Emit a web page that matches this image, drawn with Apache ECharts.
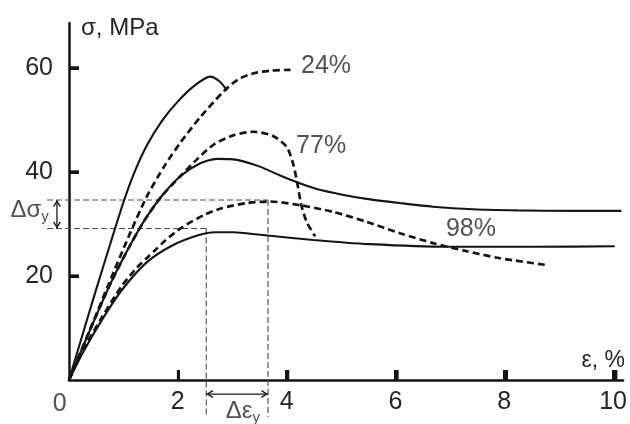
<!DOCTYPE html>
<html><head><meta charset="utf-8">
<script src="https://cdn.jsdelivr.net/npm/echarts@6/dist/echarts.min.js"></script>
<style>html,body{margin:0;padding:0;background:#fff}#c{width:630px;height:424px}</style>
</head><body><div id="c"></div>
<script>
// ---- data (x: strain ε, %; y: stress σ, MPa) ----
const xTicks = [0, 2, 4, 6, 8, 10];
const yTicks = [0, 20, 40, 60];

const solid24 = [[0,0],[0.25,8.8],[0.5,17.5],[0.75,26.0],[1.0,34.3],[1.2,40.0],[1.43,45.2],[1.7,49.8],[1.98,53.4],[2.3,56.6],[2.58,58.3],[2.76,57.3],[2.89,55.6]];
const dashed24 = [[0,0],[0.35,8.8],[0.72,18.3],[1.1,27.8],[1.42,35.2],[1.75,41.2],[2.05,45.8],[2.4,50.5],[2.85,55.7],[3.1,57.8],[3.4,59.0],[3.7,59.45],[4.05,59.6]];
const solid77 = [[0,0],[0.4,10.0],[0.78,19.0],[1.15,26.5],[1.4,31.0],[1.7,35.4],[2.03,39.1],[2.39,41.6],[2.7,42.5],[3.07,42.3],[3.49,41.0],[3.86,39.3],[4.22,37.8],[4.53,36.7],[5.0,35.6],[5.44,34.8],[6.05,34.0],[6.65,33.3],[7.39,32.8],[8.2,32.6],[9.2,32.5],[10.1,32.5]];
const dashed77 = [[0,0],[0.4,10.0],[0.78,19.0],[1.15,26.5],[1.4,31.0],[1.7,35.4],[2.03,39.1],[2.33,42.3],[2.64,45.2],[3.0,47.0],[3.37,47.7],[3.73,46.9],[3.98,44.8],[4.1,41.5],[4.18,37.5],[4.25,33.5],[4.35,30.3],[4.5,27.6]];
const solid98 = [[0,0],[0.25,5.2],[0.6,11.5],[0.96,17.2],[1.42,22.6],[1.88,25.8],[2.36,27.8],[2.67,28.4],[3.0,28.4],[3.5,27.9],[4.47,26.9],[5.5,26.1],[6.93,25.6],[8.5,25.6],[9.98,25.7]];
const dashed98 = [[0,0],[0.25,5.6],[0.6,12.0],[0.96,18.0],[1.25,21.7],[1.42,23.4],[1.57,24.9],[1.76,26.8],[2.06,29.3],[2.49,31.8],[2.79,33.0],[3.25,34.0],[3.67,34.3],[4.22,33.6],[4.83,32.3],[5.44,30.4],[6.05,28.2],[6.66,26.3],[7.25,24.8],[7.88,23.4],[8.73,22.1]];

// yield-point construction lines
const sigmaUpper = 34.6, sigmaLower = 29.1;
const epsLeft = 2.51, epsRight = 3.64;
const guideUpper = [[-0.4, sigmaUpper],[epsRight, sigmaUpper]];
const guideLower = [[-0.4, sigmaLower],[epsLeft, sigmaLower]];
const guideLeft = [[epsLeft, sigmaLower],[epsLeft, -7.1]];
const guideRight = [[epsRight, sigmaUpper],[epsRight, -7.1]];
const arrowSigma = [[-0.22, sigmaUpper],[-0.22, sigmaLower]];
const arrowEps = [[epsLeft, -2.7],[epsRight, -2.7]];

// text annotations
const annoNames = ['24%', '77%', '98%', '{m|Δσ}{s|y}', '{m|Δε}{s|y}', '0'];
const annoPos = [[4.70, 60.3],[4.61, 45.0],[7.35, 29.0],[-0.72, 32.6],[3.18, -6.0],[-0.17, -4.6]];

// ---- chart ----
const INK = '#151515', TXT = '#262626', FONT = 'Liberation Sans';
const chevron = 'path://M0,8 L6,0 L12,8 L10.2,9 L6,3.2 L1.8,9 Z';
const WIDE = { xAxisIndex: 2, yAxisIndex: 2 };   // helper coordinate system reaching left of the y axis

function curve(data, dashed) {
  return {
    type: 'line', data: data, symbol: 'none', smooth: 0.25,
    clip: false, silent: true,
    lineStyle: dashed ? { color: INK, width: 2.7, type: [7, 4] } : { color: INK, width: 2.1 }
  };
}
function guide(data, solid) {
  return Object.assign({ type: 'line', data: data, symbol: 'none', clip: false, silent: true,
    lineStyle: solid ? { color: '#1a1a1a', width: 1.3 } : { color: '#4a4a4a', width: 1.1, type: [6, 3] } }, WIDE);
}
function heads(pts, vertical) {
  const a = pts[0], b = pts[1];
  const d = vertical
    ? [{ value: a, symbolRotate: 0, symbolOffset: [0, 3.5] }, { value: b, symbolRotate: 180, symbolOffset: [0, -3.5] }]
    : [{ value: a, symbolRotate: 90, symbolOffset: [3.5, 0] }, { value: b, symbolRotate: -90, symbolOffset: [-3.5, 0] }];
  return Object.assign({ type: 'scatter', data: d, symbol: chevron, symbolSize: [8, 7],
    clip: false, silent: true, itemStyle: { color: '#1a1a1a', borderWidth: 0, opacity: 1 } }, WIDE);
}
// tick marks placed on the tick values through the scales (same look as inside axis ticks)
function tickMarks(values, isX) {
  return Object.assign({ type: 'scatter', clip: false, silent: true,
    data: values.filter(v => v !== 0).map(v => isX ? [v, 0] : [0, v]),
    symbol: 'rect', symbolSize: isX ? [3, 10] : [10, 3], symbolOffset: isX ? [0, -5] : [5, 0],
    itemStyle: { color: INK, opacity: 1 } }, WIDE);
}

const annoData = annoNames.map((n, i) => ({ name: n, value: annoPos[i] }));
const labelStyle = { fontFamily: FONT, fontSize: 25, color: TXT };
const tickStyle = { show: true, inside: true, length: 10, lineStyle: { color: INK, width: 3 } };
const off = { show: false };

const option = {
  animation: false,
  backgroundColor: '#fff',
  grid: [
    { left: 69, width: 554, top: 23, height: 357 },            // main: axis lines, curves
    { left: 69, width: 546.9, top: 67.76, height: 312.24 },     // same scale over the labelled range 0..10 / 0..60
    { left: 41.65, width: 581.35, top: 23, height: 357 }        // same scale, x from -0.5 (construction lines, tick marks)
  ],
  xAxis: [
    {
      gridIndex: 0, type: 'value', min: 0, max: 10.13,
      name: 'ε, %', nameLocation: 'end', nameGap: 2,
      nameTextStyle: { fontFamily: FONT, fontSize: 23, color: TXT, align: 'right', verticalAlign: 'bottom', padding: [0, 0, 8, 0] },
      axisLine: { show: true, lineStyle: { color: INK, width: 2.5 } },
      axisTick: off, axisLabel: off, splitLine: off
    },
    {
      gridIndex: 1, type: 'value', min: 0, max: 10, interval: 2,
      axisLine: off, axisTick: tickStyle,
      axisLabel: Object.assign({ show: true, margin: 10, showMinLabel: false }, labelStyle),
      splitLine: off
    },
    { gridIndex: 2, type: 'value', min: -0.5, max: 10.13, show: false }
  ],
  yAxis: [
    {
      gridIndex: 0, type: 'value', min: 0, max: 68.6,
      name: 'σ, MPa', nameLocation: 'end', nameGap: -5,
      nameTextStyle: { fontFamily: FONT, fontSize: 24, color: TXT, align: 'left', verticalAlign: 'middle', padding: [0, 0, 0, 12] },
      axisLine: { show: true, lineStyle: { color: INK, width: 2.5 } },
      axisTick: off, axisLabel: off, splitLine: off
    },
    {
      gridIndex: 1, type: 'value', min: 0, max: 60, interval: 20,
      axisLine: off, axisTick: tickStyle,
      axisLabel: Object.assign({ show: true, margin: 16, showMinLabel: false }, labelStyle),
      splitLine: off
    },
    { gridIndex: 2, type: 'value', min: 0, max: 68.6, show: false }
  ],
  series: [
    guide(guideUpper), guide(guideLower), guide(guideLeft), guide(guideRight),
    guide(arrowSigma, true), guide(arrowEps, true),
    heads(arrowSigma, true), heads(arrowEps, false),
    tickMarks(xTicks, true), tickMarks(yTicks, false),
    curve(solid24, false), curve(dashed24, true),
    curve(solid77, false), curve(dashed77, true),
    curve(solid98, false), curve(dashed98, true),
    {
      type: 'scatter', data: annoData, symbolSize: 1, clip: false, silent: true,
      itemStyle: { color: 'rgba(0,0,0,0)' },
      label: {
        show: true, position: 'inside', formatter: p => p.name,
        fontFamily: FONT, fontSize: 25, color: TXT,
        rich: {
          m: { fontFamily: FONT, fontSize: 24, color: TXT, lineHeight: 26 },
          s: { fontFamily: FONT, fontSize: 15, color: TXT, lineHeight: 15, verticalAlign: 'top', padding: [12, 0, 0, 0] }
        }
      }
    }
  ]
};
const chart = echarts.init(document.getElementById('c'), null, { renderer: 'canvas' });
chart.setOption(option);
</script></body></html>
